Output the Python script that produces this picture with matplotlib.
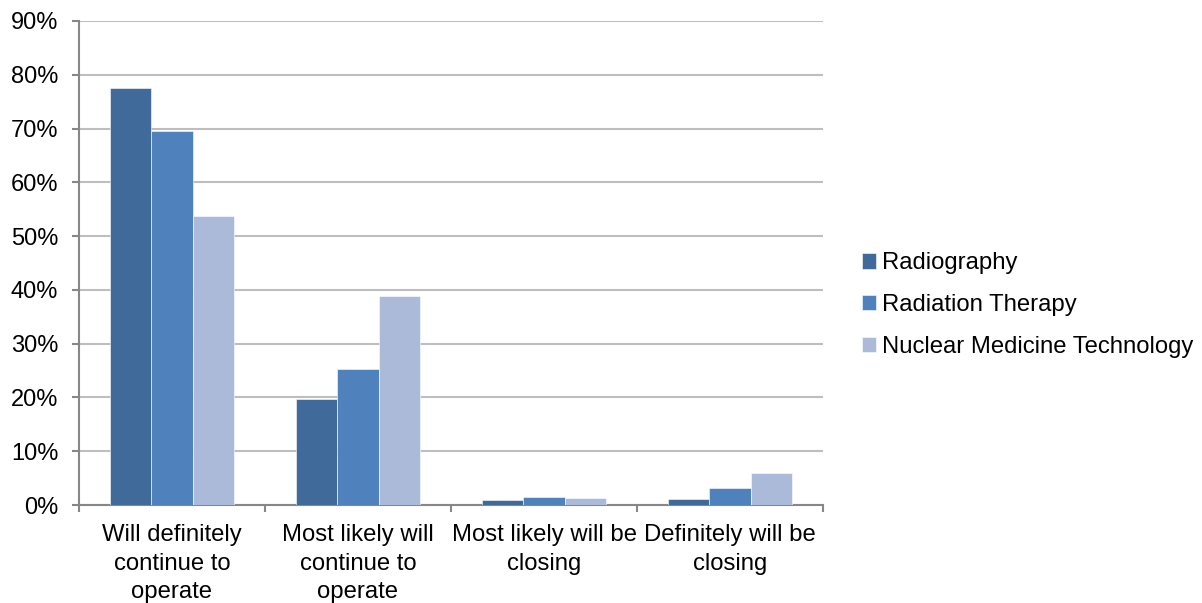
import matplotlib
matplotlib.use("Agg")
import matplotlib.pyplot as plt
import numpy as np
from matplotlib.ticker import FuncFormatter, MultipleLocator

plt.rcParams['font.family'] = ['Liberation Sans', 'DejaVu Sans']

# survey responses, share of programs
categories = ["Will definitely\ncontinue to\noperate",
              "Most likely will\ncontinue to\noperate",
              "Most likely will be\nclosing",
              "Definitely will be\nclosing"]
series_names = ["Radiography", "Radiation Therapy", "Nuclear Medicine Technology"]
radiography = [77.6, 19.8, 0.9, 1.1]
radiation_therapy = [69.6, 25.3, 1.5, 3.2]
nuclear_medicine = [53.8, 38.8, 1.3, 5.9]
colors = ["#3F6A9A", "#4F81BD", "#AABAD8"]

fig = plt.figure(figsize=(12.02, 6.03), dpi=100, facecolor='white')
ax = fig.add_axes([79 / 1202, 1 - 505 / 603, (823 - 79) / 1202, (505 - 21) / 603])

x = np.arange(len(categories))
width = 0.222
for i, (vals, name, col) in enumerate(zip([radiography, radiation_therapy, nuclear_medicine],
                                          series_names, colors)):
    ax.bar(x + (i - 1) * width, vals, width, color=col, label=name,
           edgecolor='white', linewidth=0.4, zorder=3)

ax.set_xlim(-0.5, len(categories) - 0.5)
ax.set_ylim(0, 90)
ax.yaxis.set_major_locator(MultipleLocator(10))
ax.yaxis.set_major_formatter(FuncFormatter(lambda v, p: f"{v:.0f}%"))
ax.grid(axis='y', color='#BEBEBE', linewidth=1.5, zorder=0)

# category labels centered, tick marks on the group boundaries
ax.set_xticks(x)
ax.set_xticklabels(categories, fontsize=17.2, linespacing=1.36)
ax.set_xticks(np.arange(-0.5, len(categories)), minor=True)
ax.tick_params(axis='x', which='major', length=0, pad=14)
ax.tick_params(axis='x', which='minor', length=5, width=1.5, color='#878787')
ax.tick_params(axis='y', length=5, width=1.5, color='#878787', labelsize=17, pad=10)

for side in ['top', 'right']:
    ax.spines[side].set_visible(False)
for side in ['left', 'bottom']:
    ax.spines[side].set_color('#878787')
    ax.spines[side].set_linewidth(1.5)

fig.legend(loc='center left', bbox_to_anchor=(862 / 1202, 1 - 305 / 603),
           frameon=False, fontsize=17.2, handlelength=0.6, handleheight=0.6,
           handletextpad=0.25, labelspacing=0.82, borderpad=0, borderaxespad=0)

fig.savefig("out.png", dpi=100, facecolor='white')
